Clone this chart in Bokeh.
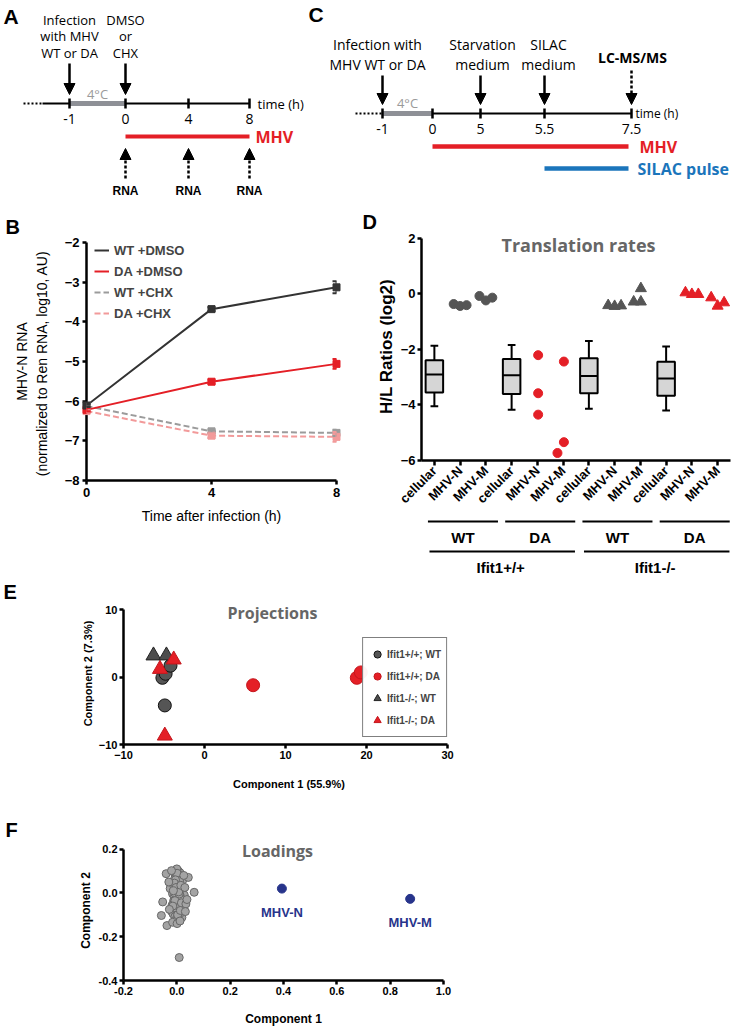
import math
from bokeh.plotting import figure
from bokeh.layouts import column, row
from bokeh.models import (Range1d, Label, Arrow, NormalHead, Legend, LegendItem, Title,
                          ColumnDataSource, FixedTicker, Whisker, TeeHead, PrintfTickFormatter)
from bokeh.core.properties import value
from bokeh.embed import file_html
from bokeh.resources import INLINE

SANS = "Liberation Sans"
MYR = "Open Sans"
RED = "#e41f26"
DARK = "#333333"
GRAY = "#555555"
BLUE_C = "#1b75bb"
NAVY = "#27348b"
TITLE_GRAY = "#666666"

# ---------------- A: experiment schematic ----------------
a_tick_labels = ["-1", "0", "4", "8"]
a_notes = ["Infection\nwith MHV\nWT or DA", "DMSO\nor\nCHX"]
a_sample = "RNA"
# ---------------- C: experiment schematic ----------------
c_tick_labels = ["-1", "0", "5", "5.5", "7.5"]
c_notes = ["Infection with\nMHV WT or DA", "Starvation\nmedium", "SILAC\nmedium"]
c_end_note = "LC-MS/MS"

# ---------------- B: MHV-N RNA ----------------
b_times = [0, 4, 8]
b_series = ["WT +DMSO", "DA +DMSO", "WT +CHX", "DA +CHX"]
b_wt_dmso = [-6.11, -3.68, -3.13]
b_da_dmso = [-6.22, -5.51, -5.06]
b_wt_chx = [-6.12, -6.76, -6.80]
b_da_chx = [-6.25, -6.87, -6.90]
b_wt_dmso_err = [0.04, 0.05, 0.15]
b_da_dmso_err = [0.04, 0.05, 0.12]
b_wt_chx_err = [0.04, 0.04, 0.08]
b_da_chx_err = [0.04, 0.06, 0.12]

# ---------------- D: translation rates ----------------
d_labels = ["cellular", "MHV-N", "MHV-M"] * 4
d_box_lo = [-4.05, -4.17, -4.14, -4.20]
d_box_q1 = [-3.55, -3.61, -3.58, -3.67]
d_box_med = [-2.91, -2.93, -2.96, -3.05]
d_box_q3 = [-2.39, -2.35, -2.32, -2.45]
d_box_hi = [-1.87, -1.84, -1.70, -1.90]
d_wt_pp_n = [-0.37, -0.44, -0.41]
d_wt_pp_m = [-0.08, -0.24, -0.14]
d_da_pp_n = [-2.21, -3.58, -4.35]
d_da_pp_m = [-2.44, -5.34, -5.73]
d_wt_ko_n = [-0.42, -0.45, -0.43]
d_wt_ko_m = [-0.29, -0.29, 0.19]
d_da_ko_n = [0.04, -0.02, -0.02]
d_da_ko_m = [-0.14, -0.44, -0.32]
d_inner_groups = ["WT", "DA", "WT", "DA"]
d_outer_groups = ["Ifit1+/+", "Ifit1-/-"]

# ---------------- E: PCA projections ----------------
e_names = ["Ifit1+/+; WT", "Ifit1+/+; DA", "Ifit1-/-; WT", "Ifit1-/-; DA"]
e_wt_pp_x = [-5.2, -4.8, -4.2, -4.9]
e_wt_pp_y = [-0.1, 0.5, 1.7, -4.2]
e_da_pp_x = [6.0, 18.8, 19.3]
e_da_pp_y = [-1.2, -0.1, 0.7]
e_wt_ko_x = [-6.3, -4.7]
e_wt_ko_y = [3.2, 3.2]
e_da_ko_x = [-5.5, -3.8, -4.9]
e_da_ko_y = [1.2, 2.6, -8.7]

# ---------------- F: PCA loadings ----------------
f_x = [-0.002, 0.006, 0.012, -0.008, 0.001, 0.009, -0.005, 0.015, 0.003, -0.011,
       0.007, -0.001, 0.013, -0.007, 0.004, 0.018, -0.013, 0.010, -0.003, 0.005,
       0.021, -0.016, 0.008, 0.000, -0.009, 0.014, 0.002, -0.004, 0.017, -0.012,
       0.011, -0.006, 0.006, 0.020, -0.018, 0.003, 0.009, -0.010, 0.016, -0.002,
       0.025, -0.020, 0.007, 0.001, -0.014, 0.012, 0.004, -0.007, 0.019, -0.001,
       0.023, -0.022, 0.010, -0.005, 0.014, 0.002, -0.015, 0.008, 0.028, -0.025,
       0.005, -0.008, 0.016, 0.000, 0.011, -0.003,
       0.000, 0.004, -0.004, 0.008, -0.008, 0.012, -0.012, 0.002, -0.002, 0.006,
       -0.006, 0.010, -0.010, 0.014, 0.001, -0.001, 0.005, -0.005, 0.009, -0.009,
       0.003, -0.003, 0.007, -0.007, 0.011, 0.015, -0.013, 0.017, 0.013, -0.015,
       -0.040, 0.043, 0.065, -0.058, -0.037, -0.053, 0.034, 0.009, -0.016, 0.001,
       0.030, -0.028, 0.032, -0.030, 0.026, 0.012, -0.020, 0.038]
f_y = [0.105, 0.100, 0.092, 0.088, 0.080, 0.074, 0.070, 0.064, 0.058, 0.052,
       0.047, 0.041, 0.036, 0.030, 0.025, 0.022, 0.018, 0.013, 0.008, 0.004,
       -0.001, -0.004, -0.008, -0.012, -0.016, -0.020, -0.024, -0.028, -0.032, -0.036,
       -0.040, -0.044, -0.048, -0.052, -0.056, -0.060, -0.064, -0.068, -0.072, -0.076,
       -0.080, -0.084, -0.088, -0.092, -0.096, -0.100, -0.104, -0.108, -0.112, -0.116,
       0.060, 0.030, -0.020, 0.095, 0.010, -0.040, 0.045, 0.085, -0.010, 0.020,
       -0.070, 0.065, -0.090, 0.110, 0.040, -0.125,
       0.050, -0.030, 0.020, -0.060, 0.000, -0.010, 0.035, -0.085, 0.075, -0.095,
       0.015, 0.055, -0.045, -0.025, 0.090, -0.070, -0.050, 0.060, -0.005, 0.045,
       -0.100, 0.025, 0.005, -0.035, -0.065, 0.035, 0.010, -0.045, -0.080, -0.060,
       0.088, 0.071, 0.003, -0.103, -0.149, -0.041, -0.050, -0.295, -0.134, -0.140,
       0.025, -0.075, -0.085, 0.050, 0.080, -0.128, 0.102, -0.030]
f_viral_names = ["MHV-N", "MHV-M"]
f_viral_x = [0.394, 0.875]
f_viral_y = [0.020, -0.027]


# ================= helpers =================
def canvas_letter(p, text, x, y):
    p.add_layout(Label(x=x, y=y, x_units="canvas", y_units="canvas", text=text,
                       text_font=SANS, text_font_style="bold", text_font_size="21px",
                       text_baseline="top", text_align="left", text_color="black"))


def title_letter(p, text, offset, standoff):
    p.add_layout(Title(text=text, align="left", offset=offset, standoff=standoff,
                       text_font=SANS, text_font_style="bold", text_font_size="20px",
                       text_color="black"), "above")


def panel_title(p, text, x, y, size):
    p.add_layout(Label(x=x, y=y, x_units="canvas", y_units="canvas", text=text,
                       text_font=MYR, text_font_style="bold", text_font_size=size,
                       text_baseline="top", text_align="center", text_color=TITLE_GRAY))


def schematic(w, h, x0):
    p = figure(width=w, height=h, x_range=Range1d(x0, x0 + w), y_range=Range1d(h - 8, -8),
               x_axis_location=None, y_axis_location=None, min_border=0,
               output_backend="svg", toolbar_location=None)
    p.grid.visible = False
    p.outline_line_color = None
    return p


def arrows(p, xs, y0, y1, dash="solid"):
    src = ColumnDataSource(dict(xs=list(xs), ys=[y0] * len(xs), xe=list(xs), ye=[y1] * len(xs)))
    p.add_layout(Arrow(x_start="xs", y_start="ys", x_end="xe", y_end="ye", source=src,
                       line_width=2.5, line_color="black", line_dash=dash,
                       end=NormalHead(size=11, fill_color="black", line_color="black", line_width=1)))


def style_axes(p, size):
    p.grid.visible = False
    p.outline_line_color = None
    for ax in p.axis:
        ax.axis_line_width = 2.5
        ax.axis_line_color = "black"
        ax.major_tick_line_width = 2.5
        ax.major_tick_line_color = "black"
        ax.major_tick_in = 0
        ax.major_tick_out = 4
        ax.minor_tick_line_color = None
        ax.major_label_text_font = SANS
        ax.major_label_text_font_size = size
        ax.major_label_text_font_style = "bold"
        ax.major_label_text_color = "black"
        ax.axis_label_text_color = "black"
        ax.axis_label_text_font = SANS
        ax.major_label_standoff = 3


# ================= A =================
pA = schematic(308, 203, -8)
a_x = [61, 117, 180, 241]
tl_y = 95
pA.segment(x0=[15], y0=[tl_y], x1=[34], y1=[tl_y], line_width=2, line_color="black", line_dash="2 2")
pA.segment(x0=[34], y0=[tl_y], x1=[a_x[-1]], y1=[tl_y], line_width=2, line_color="black")
pA.segment(x0=[a_x[0]], y0=[tl_y], x1=[a_x[1]], y1=[tl_y], line_width=5, line_color="#8e9096")
pA.segment(x0=a_x, y0=[tl_y - 5] * 4, x1=a_x, y1=[tl_y + 5] * 4, line_width=2.5, line_color="black")
pA.text(x=[(a_x[0] + a_x[1]) / 2], y=[tl_y - 10], text=["4°C"], text_font=value(MYR), text_font_size="13px",
        text_color="#9a9a9a", text_align="center", text_baseline="middle")
pA.text(x=[a_x[-1] + 8], y=[tl_y], text=["time (h)"], text_font=value(MYR), text_font_size="13px",
        text_align="left", text_baseline="middle")
pA.text(x=a_x, y=[tl_y + 15] * 4, text=a_tick_labels, text_font=value(MYR), text_font_size="14px",
        text_align="center", text_baseline="middle")
pA.segment(x0=[a_x[1]], y0=[128], x1=[a_x[-1]], y1=[128], line_width=4, line_color=RED)
pA.text(x=[a_x[-1] + 6], y=[128], text=["MHV"], text_font=value(MYR), text_font_style="bold",
        text_font_size="16px", text_color=RED, text_align="left", text_baseline="middle")
arrows(pA, a_x[:2], 55, 86)
pA.text(x=a_x[:2], y=[28, 28], text=a_notes, text_font=value(MYR), text_font_size="13px",
        text_align="center", text_baseline="middle", text_line_height=0.9)
arrows(pA, a_x[1:], 170, 140, dash="3 2")
pA.text(x=a_x[1:], y=[182] * 3, text=[a_sample] * 3, text_font=value(SANS), text_font_style="bold",
        text_font_size="12px", text_align="center", text_baseline="middle")
canvas_letter(pA, "A", 3, 4)

# ================= C =================
pC = schematic(429, 203, 0)
c_x = [74, 124, 172, 236, 323]
tc_y = 105
pC.segment(x0=[47], y0=[tc_y], x1=[c_x[0]], y1=[tc_y], line_width=2, line_color="black", line_dash="2 2")
pC.segment(x0=[c_x[0]], y0=[tc_y], x1=[c_x[-1]], y1=[tc_y], line_width=2, line_color="black")
pC.segment(x0=[c_x[0]], y0=[tc_y], x1=[c_x[1]], y1=[tc_y], line_width=5, line_color="#8e9096")
pC.segment(x0=c_x, y0=[tc_y - 5] * 5, x1=c_x, y1=[tc_y + 5] * 5, line_width=2.5, line_color="black")
pC.text(x=[(c_x[0] + c_x[1]) / 2], y=[tc_y - 11], text=["4°C"], text_font=value(MYR), text_font_size="13px",
        text_color="#9a9a9a", text_align="center", text_baseline="middle")
pC.text(x=[c_x[-1] + 4], y=[tc_y], text=["time (h)"], text_font=value(MYR), text_font_size="12px",
        text_align="left", text_baseline="middle")
pC.text(x=c_x, y=[tc_y + 15] * 5, text=c_tick_labels, text_font=value(MYR), text_font_size="14px",
        text_align="center", text_baseline="middle")
pC.segment(x0=[c_x[1]], y0=[138], x1=[c_x[-1] - 3], y1=[138], line_width=4.5, line_color=RED)
pC.segment(x0=[c_x[3]], y0=[160], x1=[c_x[-1] - 3], y1=[160], line_width=4.5, line_color=BLUE_C)
pC.text(x=[c_x[-1] + 8], y=[138], text=["MHV"], text_font=value(MYR), text_font_style="bold",
        text_font_size="16px", text_color=RED, text_align="left", text_baseline="middle")
pC.text(x=[c_x[-1] + 6], y=[160], text=["SILAC pulse"], text_font=value(MYR), text_font_style="bold",
        text_font_size="16px", text_color=BLUE_C, text_align="left", text_baseline="middle")
arrows(pC, [c_x[0], c_x[2], c_x[3]], 67, 96)
arrows(pC, [c_x[4]], 62, 96, dash="3 2")
pC.text(x=[c_x[0] - 5, c_x[2] + 2, c_x[3] + 4], y=[46, 46, 46], text=c_notes, text_font=value(MYR),
        text_font_size="14px", text_align="center", text_baseline="middle", text_line_height=1.05)
pC.text(x=[c_x[-1] + 1], y=[49], text=[c_end_note], text_font=value(MYR), text_font_style="bold",
        text_font_size="14px", text_align="center", text_baseline="middle")
canvas_letter(pC, "C", 0, 2)

# ================= B =================
pB = figure(width=360, height=375, x_range=Range1d(0, 8), y_range=Range1d(-8, -2),
            min_border_left=86, min_border_right=24, min_border_top=39, min_border_bottom=98,
            output_backend="svg", toolbar_location=None)
style_axes(pB, "13px")
pB.xaxis.ticker = FixedTicker(ticks=b_times)
pB.yaxis.ticker = FixedTicker(ticks=[-8, -7, -6, -5, -4, -3, -2])
pB.xaxis.axis_label = "Time after infection (h)"
pB.yaxis.axis_label = "MHV-N RNA\n(normalized to Ren RNA, log10,  AU)"
for ax in pB.axis:
    ax.axis_label_text_font_style = "normal"
    ax.axis_label_text_font_size = "14px"
pB.xaxis.axis_label_standoff = 8
pB.yaxis.axis_label_standoff = 12

b_specs = [
    (b_series[2], b_wt_chx, b_wt_chx_err, "#9b9b9b", "6 3"),
    (b_series[3], b_da_chx, b_da_chx_err, "#f29a9a", "6 3"),
    (b_series[1], b_da_dmso, b_da_dmso_err, RED, "solid"),
    (b_series[0], b_wt_dmso, b_wt_dmso_err, DARK, "solid"),
]
b_lines = {}
for name, vals, errs, col, dash in b_specs:
    r = pB.line(b_times, vals, line_width=2, line_color=col, line_dash=dash)
    b_lines[name] = r
    pB.scatter(b_times, vals, marker="square", size=7, fill_color=col, line_color=col, level="overlay")
    src = ColumnDataSource(dict(x=b_times, lo=[v - e for v, e in zip(vals, errs)],
                                hi=[v + e for v, e in zip(vals, errs)]))
    pB.add_layout(Whisker(source=src, base="x", lower="lo", upper="hi", line_color=col, line_width=2,
                          level="overlay",
                          upper_head=TeeHead(size=8, line_color=col, line_width=2),
                          lower_head=TeeHead(size=8, line_color=col, line_width=2)))
legB = Legend(items=[LegendItem(label=n, renderers=[b_lines[n]]) for n in b_series],
              location=(8, 157), border_line_color=None, background_fill_alpha=0,
              label_text_font=SANS, label_text_font_style="bold", label_text_font_size="13px",
              glyph_width=15, glyph_height=20, label_height=20, spacing=1, padding=3,
              label_standoff=5, margin=0)
pB.add_layout(legB)
title_letter(pB, "B", -81, 9)

# ================= D =================
pD = figure(width=377, height=311, x_range=Range1d(-0.5, 11.5), y_range=Range1d(-6, 2.204),
            min_border_left=61, min_border_right=7, min_border_top=29, min_border_bottom=53,
            output_backend="svg", toolbar_location=None)
style_axes(pD, "13px")
pD.yaxis.ticker = FixedTicker(ticks=[-6, -4, -2, 0, 2])
pD.yaxis.bounds = (-6, 2)
pD.xaxis.ticker = FixedTicker(ticks=list(range(len(d_labels))))
pD.xaxis.major_label_overrides = {i: t for i, t in enumerate(d_labels)}
pD.xaxis.major_label_orientation = math.pi / 4
pD.xaxis.major_label_text_font_size = "13px"
pD.xaxis.major_tick_out = 5
pD.yaxis.axis_label = "H/L Ratios (log2)"
pD.yaxis.axis_label_text_font_style = "bold"
pD.yaxis.axis_label_text_font_size = "17px"
pD.yaxis.axis_label_standoff = 2
pD.yaxis.major_label_standoff = 2

box_pos = [0, 3, 6, 9]
bw = 0.68
cw = 0.15
pD.segment(x0=box_pos, y0=d_box_q3, x1=box_pos, y1=d_box_hi, line_width=2, line_color="black")
pD.segment(x0=box_pos, y0=d_box_q1, x1=box_pos, y1=d_box_lo, line_width=2, line_color="black")
pD.segment(x0=[x - cw for x in box_pos], y0=d_box_hi, x1=[x + cw for x in box_pos], y1=d_box_hi,
           line_width=2, line_color="black")
pD.segment(x0=[x - cw for x in box_pos], y0=d_box_lo, x1=[x + cw for x in box_pos], y1=d_box_lo,
           line_width=2, line_color="black")
pD.vbar(x=box_pos, bottom=d_box_q1, top=d_box_q3, width=bw, fill_color="#d6d6d6",
        line_color="black", line_width=2)
pD.segment(x0=[x - bw / 2 for x in box_pos], y0=d_box_med, x1=[x + bw / 2 for x in box_pos], y1=d_box_med,
           line_width=2, line_color="black")

jit3 = [-0.25, 0.0, 0.25]
d_points = [
    (1, d_wt_pp_n, jit3, "circle", GRAY),
    (2, d_wt_pp_m, jit3, "circle", GRAY),
    (4, d_da_pp_n, [0.03, 0.03, 0.03], "circle", RED),
    (5, d_da_pp_m, [0.03, 0.03, -0.22], "circle", RED),
    (7, d_wt_ko_n, jit3, "triangle", GRAY),
    (8, d_wt_ko_m, [-0.26, 0.02, 0.02], "triangle", GRAY),
    (10, d_da_ko_n, jit3, "triangle", RED),
    (11, d_da_ko_m, jit3, "triangle", RED),
]
for pos, vals, jit, mk, col in d_points:
    pD.scatter([pos + j for j in jit], vals, marker=mk, size=9 if mk == "circle" else 11,
               fill_color=col, line_color=col)
panel_title(pD, "Translation rates", 218, 29, "18px")
title_letter(pD, "D", -59, 0)

pDg = figure(width=377, height=64, x_range=pD.x_range, y_range=Range1d(64, 0),
             x_axis_location=None, y_axis_location=None, min_border_left=61, min_border_right=7,
             min_border_top=0, min_border_bottom=0, output_backend="svg", toolbar_location=None)
pDg.grid.visible = False
pDg.outline_line_color = None
in_first = [0, 3, 6, 9]
in_last = [2, 5, 8, 11]
in_x0 = [f - 0.25 for f in in_first]
in_x1 = [l + 0.47 for l in in_last]
pDg.segment(x0=in_x0, y0=[7] * 4, x1=in_x1, y1=[7] * 4, line_width=2, line_color="black")
pDg.text(x=[(a + b) / 2 for a, b in zip(in_x0, in_x1)], y=[23] * 4, text=d_inner_groups,
         text_font=value(SANS), text_font_style="bold", text_font_size="15px",
         text_align="center", text_baseline="middle")
out_first = [0, 6]
out_last = [5, 11]
out_x0 = [f - 0.19 for f in out_first]
out_x1 = [l + 0.46 for l in out_last]
pDg.segment(x0=out_x0, y0=[37] * 2, x1=out_x1, y1=[37] * 2, line_width=2, line_color="black")
pDg.text(x=[(a + b) / 2 - 0.06 for a, b in zip(out_x0, out_x1)], y=[53] * 2, text=d_outer_groups,
         text_font=value(SANS), text_font_style="bold", text_font_size="15px",
         text_align="center", text_baseline="middle")

# ================= E =================
pE = figure(frame_width=331, frame_height=142, x_range=Range1d(-10, 30.86), y_range=Range1d(-10, 11.08),
            min_border_left=123, min_border_right=283, min_border_top=23, min_border_bottom=72,
            output_backend="svg", toolbar_location=None)
style_axes(pE, "11px")
pE.xaxis.ticker = FixedTicker(ticks=[-10, 0, 10, 20, 30])
pE.yaxis.ticker = FixedTicker(ticks=[-10, 0, 10])
pE.xaxis.bounds = (-10, 30)
pE.yaxis.bounds = (-10, 10)
pE.xaxis.axis_label = "Component 1 (55.9%)"
pE.yaxis.axis_label = "Component 2 (7.3%)"
for ax in pE.axis:
    ax.axis_label_text_font_style = "bold"
    ax.axis_label_text_font_size = "11px"
    ax.major_label_standoff = 2
pE.xaxis.axis_label_standoff = 16
pE.yaxis.axis_label_standoff = 2
e_specs = [
    (e_names[0], e_wt_pp_x, e_wt_pp_y, "circle", "#555555", "#111111", 13),
    (e_names[1], e_da_pp_x, e_da_pp_y, "circle", RED, "#c4161c", 13),
    (e_names[2], e_wt_ko_x, e_wt_ko_y, "triangle", "#4d4d4d", "#222222", 15),
    (e_names[3], e_da_ko_x, e_da_ko_y, "triangle", RED, "#c4161c", 15),
]
e_items = []
for name, xs, ys, mk, fc, lc, sz in e_specs:
    r = pE.scatter(xs, ys, marker=mk, size=sz, fill_color=fc, line_color=lc, line_width=1)
    e_items.append(LegendItem(label=name, renderers=[r]))
legE = Legend(items=e_items, location="bottom_right", margin=7, border_line_color="black",
              border_line_width=1.5, background_fill_color="white", label_text_font=SANS,
              label_text_font_style="bold", label_text_font_size="10px", glyph_width=18,
              glyph_height=22, label_height=22, spacing=0, padding=5, label_standoff=1)
pE.add_layout(legE)
panel_title(pE, "Projections", 272, 23, "16px")
title_letter(pE, "E", -120, 0)

# ================= F =================
pF = figure(frame_width=320, frame_height=140, x_range=Range1d(-0.2, 1.0), y_range=Range1d(-0.4, 0.2397),
            min_border_left=121, min_border_right=296, min_border_top=23, min_border_bottom=53,
            output_backend="svg", toolbar_location=None)
style_axes(pF, "11px")
pF.xaxis.ticker = FixedTicker(ticks=[-0.2, 0.0, 0.2, 0.4, 0.6, 0.8, 1.0])
pF.yaxis.ticker = FixedTicker(ticks=[-0.4, -0.2, 0.0, 0.2])
pF.yaxis.bounds = (-0.4, 0.2)
pF.xaxis.formatter = PrintfTickFormatter(format="%.1f")
pF.yaxis.formatter = PrintfTickFormatter(format="%.1f")
pF.xaxis.axis_label = "Component 1"
pF.yaxis.axis_label = "Component 2"
for ax in pF.axis:
    ax.axis_label_text_font_style = "bold"
    ax.axis_label_text_font_size = "12px"
    ax.major_label_standoff = 2
pF.xaxis.axis_label_standoff = 14
pF.yaxis.axis_label_standoff = 3
pF.scatter(f_x, f_y, marker="circle", size=8, fill_color="#a3a3a3", line_color="#676767", line_width=1)
pF.scatter(f_viral_x, f_viral_y, marker="circle", size=9, fill_color=NAVY, line_color=NAVY)
pF.text(x=f_viral_x, y=f_viral_y, text=f_viral_names, y_offset=24, text_font=value(SANS),
        text_font_style="bold", text_font_size="13px", text_color=NAVY,
        text_align="center", text_baseline="middle")
panel_title(pF, "Loadings", 277, 23, "16px")
title_letter(pF, "F", -118, 0)

layout = column(row(pA, pC), row(pB, column(pD, pDg)), pE, pF)
open("out.html", "w").write(file_html(layout, INLINE))
